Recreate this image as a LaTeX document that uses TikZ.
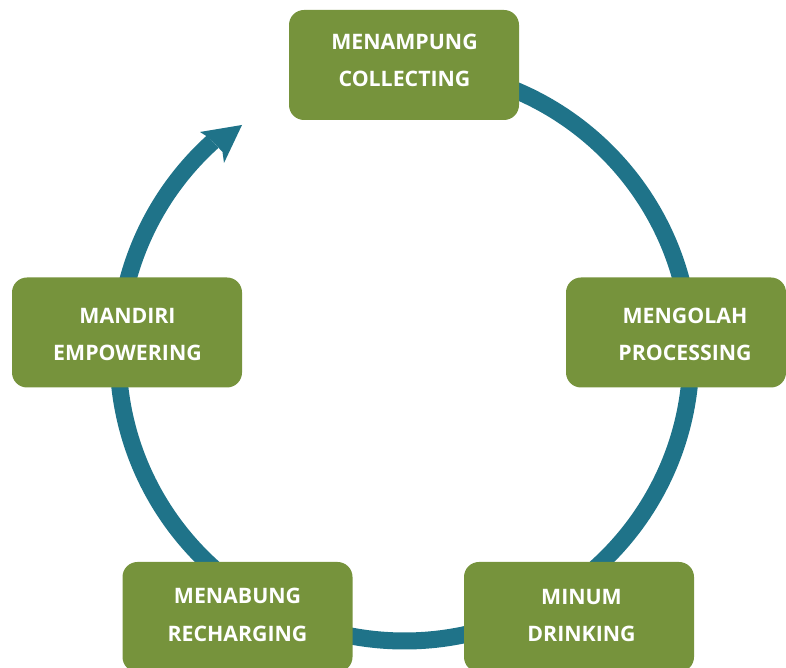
\documentclass[tikz,border=0pt]{standalone}
\usepackage{fontspec}
\newfontfamily\lblfont{Open Sans}
\definecolor{boxgreen}{HTML}{76933C}
\definecolor{cycleteal}{HTML}{1F7389}
\begin{document}
\begin{tikzpicture}[x=1pt,y=1pt,
  stagebox/.style={fill=boxgreen, draw=none, rounded corners=15pt, minimum width=230pt, minimum height=110pt, inner sep=0pt},
  stagetext/.style={anchor=base, text=white, inner sep=0pt, font=\lblfont\bfseries\fontsize{21.3}{26}\selectfont},
  cycle/.style={draw=cycleteal, line width=17pt}
]
\useasboundingbox (0,0) rectangle (786,668);
% cycle arc
\coordinate (c) at (404.5,313.5);
\draw[cycle] (c) ++(90:286.5) arc (90:-228:286.5);
% arrow head
\coordinate (tip) at (242,543);
\coordinate (wl) at (200,536);
\coordinate (nl) at (209.5,530);
\coordinate (nr) at (222.5,516);
\coordinate (wr) at (224,505);
\fill[cycleteal] (tip) -- (wl) -- (nl) -- (nr) -- (wr) -- cycle;
% boxes
\node[stagebox] (collect) at (404,603) {};
\node[stagebox, minimum width=220pt] (process) at (676,335.5) {};
\node[stagebox] (empower) at (127,335.5) {};
\node[stagebox] (recharge) at (237.5,51) {};
\node[stagebox] (drink) at (579,51) {};
% labels
\node[stagetext] (collect1) at (404.5,618) {MENAMPUNG};
\node[stagetext] (collect2) at (404.5,581) {COLLECTING};
\node[stagetext] (process1) at (685,344) {MENGOLAH};
\node[stagetext] (process2) at (685,307) {PROCESSING};
\node[stagetext] (empower1) at (127.5,344) {MANDIRI};
\node[stagetext] (empower2) at (127.5,307) {EMPOWERING};
\node[stagetext] (recharge1) at (237.5,64) {MENABUNG};
\node[stagetext] (recharge2) at (237.5,26) {RECHARGING};
\node[stagetext] (drink1) at (581.5,63) {MINUM};
\node[stagetext] (drink2) at (581.5,26) {DRINKING};
\end{tikzpicture}
\end{document}
